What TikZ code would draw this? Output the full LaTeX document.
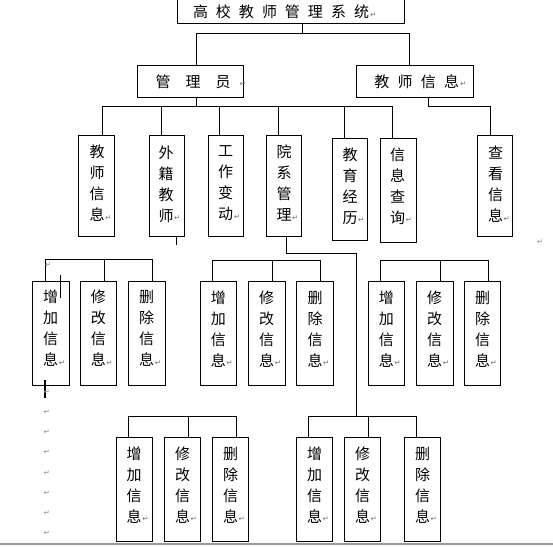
\documentclass[tikz,border=0pt]{standalone}
\usepackage{fontspec}
\newfontfamily\cjk{Noto Sans CJK SC}
\newfontfamily\symf{DejaVu Sans}
\newcommand\rt[1][0.6pt]{\rlap{\kern#1\raisebox{0.5pt}{\symf\fontsize{7.5}{7.5}\selectfont\color{black!55}↵}}}
\newcommand\gapA{\hskip8pt}
\newcommand\gapB{\hskip15pt}
\newcommand\gapC{\hskip8.3pt}
\begin{document}
\begin{tikzpicture}[x=1pt,y=-1pt,
  ln/.style={line width=0.8pt},
  bx/.style={draw, line width=0.8pt, inner sep=0pt},
  tall/.style={bx, minimum width=36pt, minimum height=104pt},
  wide/.style={bx, minimum height=32pt},
  vlab/.style={align=center, inner sep=0pt, font=\cjk\fontsize{15}{21}\selectfont},
  hlab/.style={inner sep=0pt, font=\cjk\fontsize{15}{15}\selectfont},
  mk/.style={inner sep=0pt, font=\symf\fontsize{7.5}{7.5}\selectfont, text=black!45}
]
\useasboundingbox (0,0) rectangle (553,546);

% top level
\node[bx, minimum width=227pt, minimum height=24pt] (root) at (290.5,11) {};
\node[hlab] (rootT) at (281,12) {高\gapA 校\gapA 教\gapA 师\gapA 管\gapA 理\gapA 系\gapA 统\rt[1pt]};
\node[wide, minimum width=106pt] (adm) at (190.3,81) {};
\node[hlab] (admT) at (193,81.7) {管\gapB 理\gapB 员\rt[9pt]};
\node[wide, minimum width=116.7pt] (tinfo) at (415,81) {};
\node[hlab] (tinfoT) at (416.7,81.7) {教\gapC 师\gapC 信\gapC 息\rt[1pt]};

% first row
\node[tall, minimum height=101.7pt] (t1) at (96.3,185.9) {};
\node[tall, minimum width=35pt, minimum height=101.7pt] (t2) at (166.8,185.9) {};
\node[tall, minimum width=35pt, minimum height=101.7pt] (t3) at (225.8,185.9) {};
\node[tall, minimum width=35pt, minimum height=101.7pt] (t4) at (284.2,185.9) {};
\node[tall, minimum width=35.4pt, minimum height=101.7pt] (t5) at (350,189.2) {};
\node[tall, minimum height=104pt] (t6) at (398.7,190.3) {};
\node[tall, minimum width=35pt, minimum height=101.7pt] (t7) at (494.8,185.9) {};
\node[vlab] (t1T) at (97,183.4) {教\\师\\信\\息\rt};
\node[vlab] (t2T) at (166,184) {外\\籍\\教\\师\rt};
\node[vlab] (t3T) at (225.7,183.3) {工\\作\\变\\动\rt};
\node[vlab] (t4T) at (284,183.3) {院\\系\\管\\理\rt};
\node[vlab] (t5T) at (350,185.8) {教\\育\\经\\历\rt};
\node[vlab] (t6T) at (397.5,185.8) {信\\息\\查\\询\rt};
\node[vlab] (t7T) at (495.5,184.2) {查\\看\\信\\息\rt};

% second and third rows
\foreach \n/\x/\y in {a1/50.7/333, a2/98.3/333, a3/146.7/333,
                      b1/218.3/333.7, b2/266.7/333.7, b3/315/333.7,
                      c1/386.3/333.7, c2/434.7/333.7, c3/482.5/333.7,
                      d1/134.2/489.5, d2/182.5/489.5, d3/230.5/489.5,
                      e1/314.5/489.5, e2/362.5/489.5, e3/422.5/489.5}
  \node[tall, minimum width=36.5pt] (\n) at (\x,\y) {};
\foreach \n/\x/\y in {a/50.7/328.5, b/218.3/329, c/386.3/329, d/134.2/485, e/314.5/485}
  \node[vlab] (\n1T) at (\x,\y) {增\\加\\信\\息\rt};
\foreach \n/\x/\y in {a/98.3/328.5, b/266.7/329, c/434.7/329, d/182.5/485, e/362.5/485}
  \node[vlab] (\n2T) at (\x,\y) {修\\改\\信\\息\rt};
\foreach \n/\x/\y in {a/146.7/328.5, b/315/329, c/482.5/329, d/230.5/485, e/422.5/485}
  \node[vlab] (\n3T) at (\x,\y) {删\\除\\信\\息\rt};

% bus levels
\coordinate (r0) at (0,33.3);
\coordinate (bA) at (0,106.7);
\coordinate (k) at (356.7,253.3);
\coordinate (ga) at (0,259.3);
\coordinate (gb) at (0,260.7);
\coordinate (gd) at (0,416.7);
\coordinate (ge) at (0,416);

% connectors top
\draw[ln] ([xshift=12.2pt]root.south) -- ([xshift=12.2pt]root.south |- r0);
\draw[ln] ([xshift=6.4pt]adm.north) |- ([xshift=-6pt]tinfo.north |- r0) -- ([xshift=-6pt]tinfo.north);
\draw[ln] ([xshift=6.4pt]adm.south) -- ([xshift=6.4pt]adm.south |- bA);
\draw[ln] ([xshift=6.4pt]t1.north) |- ([xshift=-6.4pt]t6.north |- bA) -- ([xshift=-6.4pt]t6.north);
\foreach \n/\d in {t2/-5, t3/-6.5, t4/-6, t5/-5.7}
  \draw[ln] ([xshift=\d pt]\n.north) -- ([xshift=\d pt]\n.north |- bA);
\draw[ln] ([xshift=13.3pt]tinfo.south) |- ([xshift=-4.1pt]t7.north |- bA) -- ([xshift=-4.1pt]t7.north);
\coordinate (t2s) at ([xshift=9.9pt,yshift=-8.3pt]t2.south);
\draw[ln] ([xshift=9.9pt]t2.south) -- (t2s);
\draw[ln] ([xshift=2.5pt]t4.south) |- (k) -- (k |- ge);

% group buses
\draw[ln] ([xshift=-5.7pt]a1.north) |- ([xshift=5.6pt]a3.north |- ga) -- ([xshift=5.6pt]a3.north);
\draw[ln] ([xshift=5.7pt]a2.north) -- ([xshift=5.7pt]a2.north |- ga);
\draw[ln] ([xshift=-6pt]b1.north) |- ([xshift=5.7pt]b3.north |- gb) -- ([xshift=5.7pt]b3.north);
\draw[ln] ([xshift=6pt]b2.north) -- ([xshift=6pt]b2.north |- gb);
\draw[ln] ([xshift=-5.6pt]c1.north) |- ([xshift=5.8pt]c3.north |- gb) -- ([xshift=5.8pt]c3.north);
\draw[ln] ([xshift=6pt]c2.north) -- ([xshift=6pt]c2.north |- gb);
\draw[ln] ([xshift=-5.9pt]d1.north) |- ([xshift=6.2pt]d3.north |- gd) -- ([xshift=6.2pt]d3.north);
\draw[ln] ([xshift=5.8pt]d2.north) -- ([xshift=5.8pt]d2.north |- gd);
\draw[ln] ([xshift=-6.2pt]e1.north) |- ([xshift=-5.8pt]e3.north |- ge) -- ([xshift=-5.8pt]e3.north);
\draw[ln] ([xshift=5.8pt]e2.north) -- ([xshift=5.8pt]e2.north |- ge);

% stray marks
\draw[ln] (60.7,275) -- (60.7,298.3);
\draw[line width=2pt] (45,380) -- (45,398.3);
\node[mk] (m0) at (48.3,265) {↵};
\node[mk] (mR) at (540,241.7) {↵};
\foreach \i/\y in {1/391.7, 2/411.7, 3/431.7, 4/451.7, 5/473.3, 6/493.3, 7/513.3, 8/533.3}
  \node[mk] (m\i) at (46.7,\y) {↵};
\draw[black!40, line width=1.5pt] (0,544) -- (553,544);
\end{tikzpicture}
\end{document}
